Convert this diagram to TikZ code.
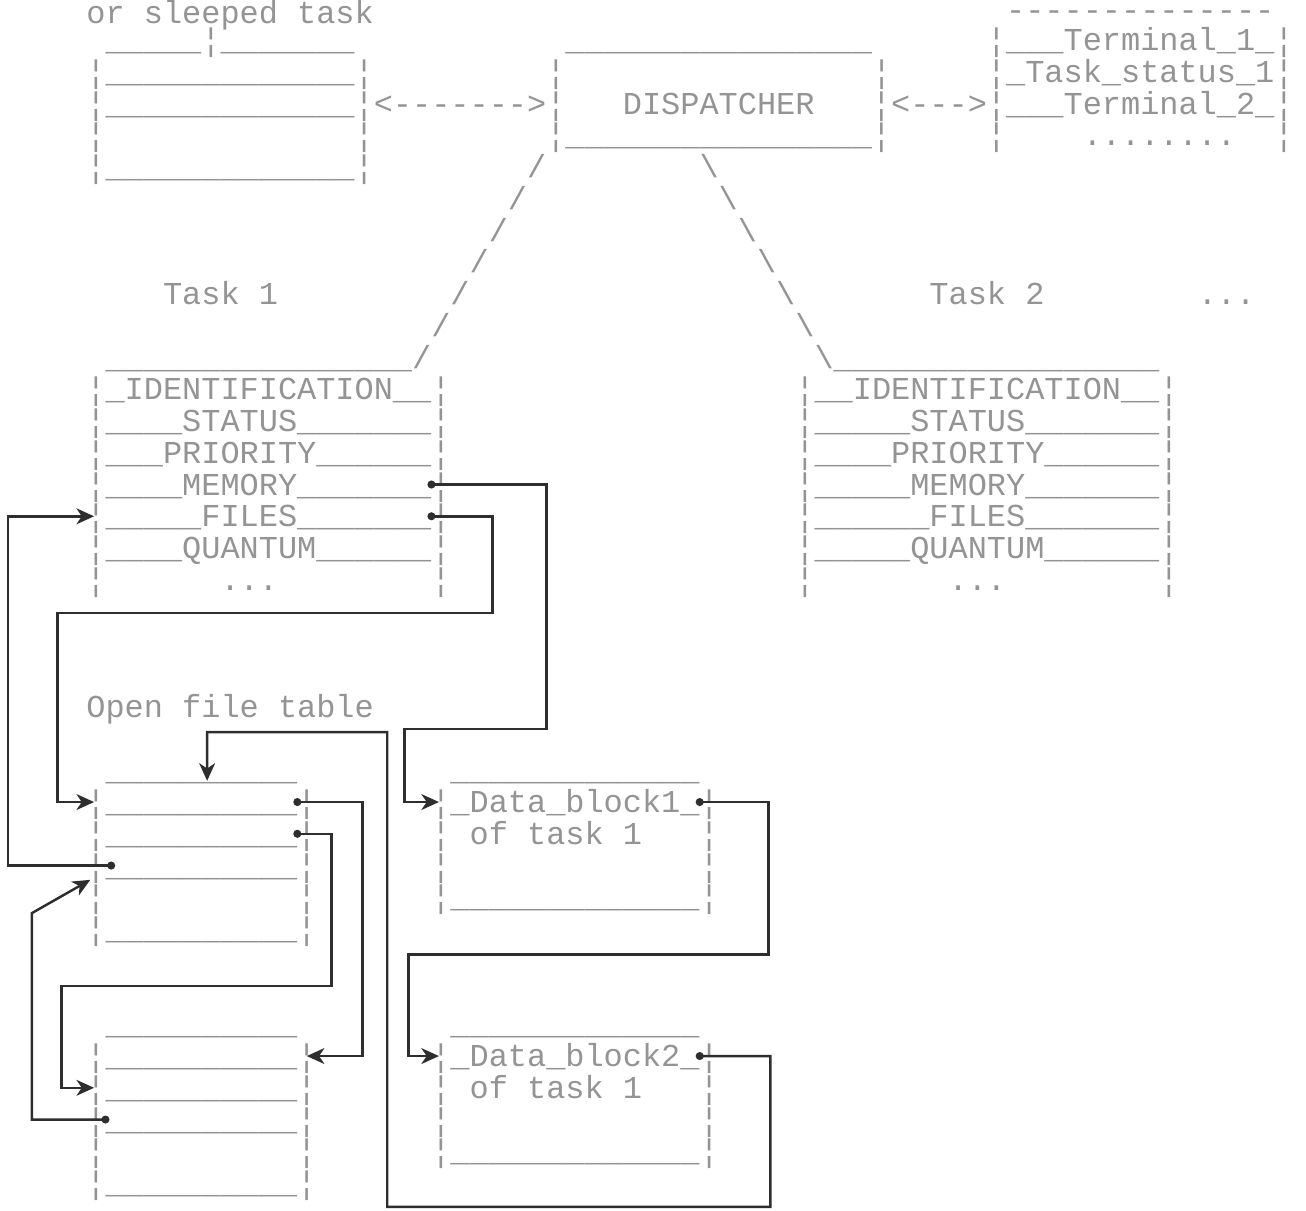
\documentclass[tikz,border=0pt]{standalone}
\usepackage{fontspec}
\setmonofont{Liberation Mono}
\usetikzlibrary{calc,arrows.meta}
\tikzset{
  prn/.style={font=\ttfamily\fontsize{18.17pt}{18pt}\selectfont, text=black!42,
    inner sep=0pt, outer sep=0pt, text height=14pt, text depth=2pt, anchor=west},
  prntop/.style={prn, text height=13pt, text depth=0pt, anchor=base west},
  link/.style={draw=black!82, line width=1.4pt,
    {Circle[length=4.5pt]}-{Stealth[length=10pt,width=9pt,inset=3pt]}},
}
\begin{document}
\catcode`\_=12
\begin{tikzpicture}[x=0.3832cm, y=-0.635cm]
    \useasboundingbox (-5.01,-1.26) rectangle (63.15,36.85);
    % ready / sleeping task table
    \node[prntop] (rdy) at (-0.5,-0.53) {or~sleeped~task};
    \node[prn] (rd0) at (0.5,0) {_____¦_______};
    \node[prn] (rd1) at (-0.5,1) {¦_____________¦};
    \node[prn] (rd2) at (-0.5,2) {¦_____________¦};
    \node[prn] (rd3) at (-0.5,3) {¦~~~~~~~~~~~~~¦};
    \node[prn] (rd4) at (-0.5,4) {¦_____________¦};
    \node[prn] (arrL) at (14.5,2) {<------->};
    % dispatcher
    \node[prn] (dsp0) at (24.5,0) {________________};
    \node[prn] (dsp1) at (23.5,1) {¦~~~~~~~~~~~~~~~~¦};
    \node[prn] (dsp) at (23.5,2) {¦~~~DISPATCHER~~~¦};
    \node[prn] (dsp3) at (23.5,3) {¦________________¦};
    \node[prn] (arrR) at (41.5,2) {<--->};
    % terminals
    \node[prntop] (tm0) at (47.5,-0.6) {--------------};
    \node[prn] (tm1) at (46.5,0) {¦___Terminal_1_¦};
    \node[prn] (tm2) at (46.5,1) {¦_Task_status_1¦};
    \node[prn] (tm3) at (46.5,2) {¦___Terminal_2_¦};
    \node[prn] (tm4) at (46.5,3) {¦~~~~........~~¦};
    % branches to the tasks
    \foreach \rr in {4,...,9} {
        \node[prn] (sl\rr) at ({26.5-\rr},\rr) {/};
        \node[prn] (bs\rr) at ({27.5+\rr},\rr) {\textbackslash};
    }
    \node[prn] (tk1) at (3.5,8) {Task~1};
    \node[prn] (tk2) at (43.5,8) {Task~2};
    \node[prn] (tkmore) at (57.5,8) {...};
    % task 1
    \node[prn] (t1top) at (0.5,10) {________________/};
    \node[prn] (t1id) at (-0.5,11) {¦_IDENTIFICATION__¦};
    \node[prn] (t1st) at (-0.5,12) {¦____STATUS_______¦};
    \node[prn] (t1pr) at (-0.5,13) {¦___PRIORITY______¦};
    \node[prn] (t1mem) at (-0.5,14) {¦____MEMORY_______¦};
    \node[prn] (t1fil) at (-0.5,15) {¦_____FILES_______¦};
    \node[prn] (t1qu) at (-0.5,16) {¦____QUANTUM______¦};
    \node[prn] (t1etc) at (-0.5,17) {¦~~~~~~...~~~~~~~~¦};
    % task 2
    \node[prn] (t2top) at (37.5,10) {\textbackslash_________________};
    \node[prn] (t2id) at (36.5,11) {¦__IDENTIFICATION__¦};
    \node[prn] (t2st) at (36.5,12) {¦_____STATUS_______¦};
    \node[prn] (t2pr) at (36.5,13) {¦____PRIORITY______¦};
    \node[prn] (t2mem) at (36.5,14) {¦_____MEMORY_______¦};
    \node[prn] (t2fil) at (36.5,15) {¦______FILES_______¦};
    \node[prn] (t2qu) at (36.5,16) {¦_____QUANTUM______¦};
    \node[prn] (t2etc) at (36.5,17) {¦~~~~~~~...~~~~~~~~¦};
    % open file table
    \node[prn] (oft) at (-0.5,21) {Open~file~table};
    \node[prn] (o1top) at (0.5,23) {__________};
    \node[prn] (o1a) at (-0.5,24) {¦__________¦};
    \node[prn] (o1b) at (-0.5,25) {¦__________¦};
    \node[prn] (o1c) at (-0.5,26) {¦__________¦};
    \node[prn] (o1d) at (-0.5,27) {¦~~~~~~~~~~¦};
    \node[prn] (o1e) at (-0.5,28) {¦__________¦};
    \node[prn] (o2top) at (0.5,31) {__________};
    \node[prn] (o2a) at (-0.5,32) {¦__________¦};
    \node[prn] (o2b) at (-0.5,33) {¦__________¦};
    \node[prn] (o2c) at (-0.5,34) {¦__________¦};
    \node[prn] (o2d) at (-0.5,35) {¦~~~~~~~~~~¦};
    \node[prn] (o2e) at (-0.5,36) {¦__________¦};
    % data blocks
    \node[prn] (d1top) at (18.5,23) {_____________};
    \node[prn] (d1a) at (17.5,24) {¦_Data_block1_¦};
    \node[prn] (d1b) at (17.5,25) {¦~of~task~1~~~¦};
    \node[prn] (d1c) at (17.5,26) {¦~~~~~~~~~~~~~¦};
    \node[prn] (d1d) at (17.5,27) {¦_____________¦};
    \node[prn] (d2top) at (18.5,31) {_____________};
    \node[prn] (d2a) at (17.5,32) {¦_Data_block2_¦};
    \node[prn] (d2b) at (17.5,33) {¦~of~task~1~~~¦};
    \node[prn] (d2c) at (17.5,34) {¦~~~~~~~~~~~~~¦};
    \node[prn] (d2d) at (17.5,35) {¦_____________¦};
    % pointers
    \draw[link] ($(t1mem.east)+(-1.2,0)$) -| (23.5,21.7) -| (16.1,24) -- ($(d1a.west)+(0.4,0)$);
    \draw[link] ($(t1fil.east)+(-1.2,0)$) -| (20.7,18.05) -| (-2,24) -- ($(o1a.west)+(0.4,0)$);
    \draw[link] ($(o1c.west)+(1.5,0)$) -| (-4.6,15) -- ($(t1fil.west)+(0.4,0)$);
    \draw[link] ($(d1a.east)+(-1.2,0)$) -| (35.1,28.8) -| (16.3,32) -- ($(d2a.west)+(0.4,0)$);
    \draw[link] ($(d2a.east)+(-1.2,0)$) -| (35.2,36.75) -- (15.2,36.75) |- (5.8,21.8) -- ($(o1top.base)+(0.3,0)$);
    \draw[link] ($(o1a.east)+(-1.2,0)$) -| (13.9,32) -- ($(o2a.east)+(-0.5,0)$);
    \draw[link] ($(o1b.east)+(-1.2,0)$) -| (12.3,29.8) -| (-1.8,33) -- ($(o2b.west)+(0.4,0)$);
    \draw[link] ($(o2c.west)+(1.2,0)$) -| (-3.35,27.5) -- ($(o1c.west)+(0.2,0.45)$);
\end{tikzpicture}
\end{document}
